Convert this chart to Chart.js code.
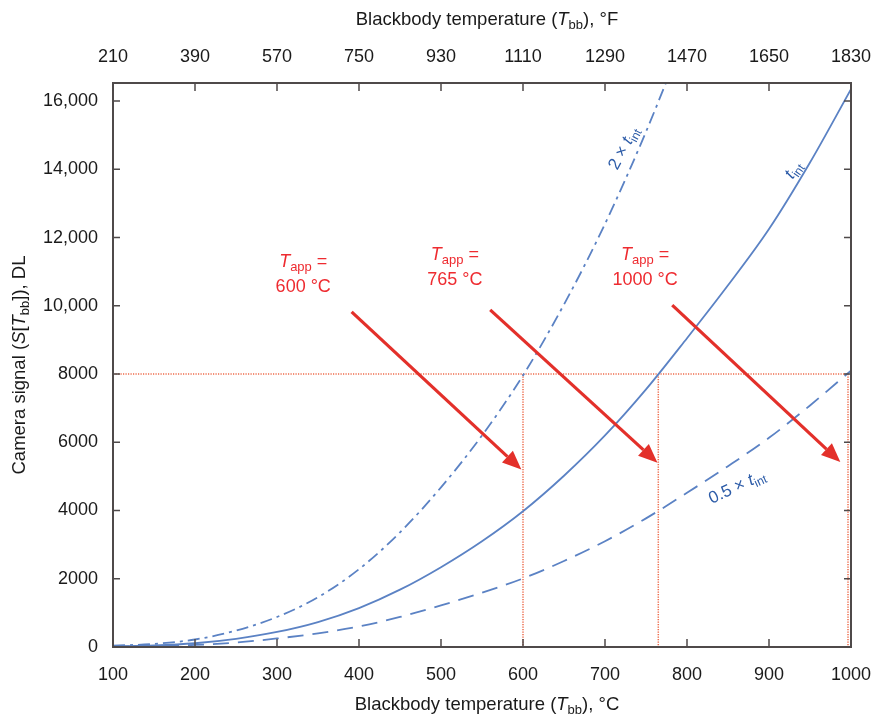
<!DOCTYPE html>
<html>
<head>
<meta charset="utf-8">
<title>Camera signal vs blackbody temperature</title>
<script src="https://cdn.jsdelivr.net/npm/chart.js@4.4.1/dist/chart.umd.min.js"></script>
<style>
  html, body { margin: 0; padding: 0; background: #fff; }
  #wrap { width: 877px; height: 717px; }
</style>
</head>
<body>
<div id="wrap"><canvas id="signalChart" width="877" height="717"></canvas></div>
<script>
// ==== Data ====
const tempsC = [100, 150, 200, 250, 300, 350, 400, 450, 500, 550, 600, 650, 700, 750, 800, 850, 900, 950, 1000];
const tintSignal = [20, 45, 110, 240, 440, 730, 1140, 1680, 2340, 3100, 3980, 5020, 6200, 7550, 9050, 10600, 12250, 14200, 16350];
const doubleSignal = [40, 90, 220, 480, 880, 1460, 2280, 3360, 4680, 6200, 7960, 10040, 12400, 15100, 18100];
const halfSignal = [10, 25, 60, 130, 250, 400, 600, 880, 1220, 1590, 2010, 2520, 3100, 3770, 4520, 5300, 6130, 7080, 8100];

const celsiusTicks = [100, 200, 300, 400, 500, 600, 700, 800, 900, 1000];
const fahrenheitTicks = ['210', '390', '570', '750', '930', '1110', '1290', '1470', '1650', '1830'];
const signalTickValues = [0, 2000, 4000, 6000, 8000, 10000, 12000, 14000, 16000];
const signalTicks = ['0', '2000', '4000', '6000', '8000', '10,000', '12,000', '14,000', '16,000'];

const targetSignal = 8000;
const apparentTemps = [600, 765, 1000];

// ==== Look ====
const FONT = "'Liberation Sans', Arial, Helvetica, sans-serif";
const AXIS_COLOR = '#4f4a4a';
const CURVE_COLOR = '#5b82c4';
const CURVE_TEXT = '#2d5ca8';
const RED = '#e3302a';
const RED_TEXT = '#ee2b30';
const DOTTED = '#ee6c4c';

// arrow tails/tips and label anchors, in data units (°C, DL)
const arrows = [
  { from: [391, 9820], to: [598, 5200] },
  { from: [560, 9880], to: [764, 5400] },
  { from: [782, 10020], to: [987, 5420] }
];
const tappLabels = [
  { x: 332, y: 10900, value: apparentTemps[0] },
  { x: 517, y: 11110, value: apparentTemps[1] },
  { x: 749, y: 11110, value: apparentTemps[2] }
];

const toPoints = (vals) => vals.map((v, i) => ({ x: tempsC[i], y: v }));

// ---- mixed italic / subscript text ----
function fontFor(part, size) {
  const s = part.sub ? Math.round(size * 0.72) : size;
  return (part.italic ? 'italic ' : '') + s + 'px ' + FONT;
}
function richWidth(ctx, parts, size) {
  let w = 0;
  parts.forEach(p => { ctx.font = fontFor(p, size); w += ctx.measureText(p.t).width; });
  return w;
}
function drawRich(ctx, parts, x, y, size, color) {
  ctx.save();
  ctx.fillStyle = color;
  ctx.textBaseline = 'middle';
  ctx.textAlign = 'left';
  let cx = x - richWidth(ctx, parts, size) / 2;
  parts.forEach(p => {
    ctx.font = fontFor(p, size);
    ctx.fillText(p.t, cx, y + (p.sub ? size * 0.3 : 0));
    cx += ctx.measureText(p.t).width;
  });
  ctx.restore();
}
function drawRotated(ctx, parts, x, y, deg, size, color) {
  ctx.save();
  ctx.translate(x, y);
  ctx.rotate(deg * Math.PI / 180);
  drawRich(ctx, parts, 0, 0, size, color);
  ctx.restore();
}

function drawArrow(ctx, x1, y1, x2, y2) {
  const ang = Math.atan2(y2 - y1, x2 - x1);
  const headLen = 19, half = 8;
  const bx = x2 - headLen * Math.cos(ang), by = y2 - headLen * Math.sin(ang);
  ctx.save();
  ctx.strokeStyle = RED;
  ctx.fillStyle = RED;
  ctx.lineWidth = 3.2;
  ctx.beginPath();
  ctx.moveTo(x1, y1);
  ctx.lineTo(bx, by);
  ctx.stroke();
  ctx.beginPath();
  ctx.moveTo(x2, y2);
  ctx.lineTo(bx + half * Math.sin(ang), by - half * Math.cos(ang));
  ctx.lineTo(bx - half * Math.sin(ang), by + half * Math.cos(ang));
  ctx.closePath();
  ctx.fill();
  ctx.restore();
}

// ---- frame, inward ticks, guides, arrows and titles ----
const decorPlugin = {
  id: 'decor',
  beforeDatasetsDraw(chart) {
    const { ctx, chartArea: a, scales: { x, y } } = chart;
    const yPx = y.getPixelForValue(targetSignal);
    ctx.save();
    ctx.strokeStyle = DOTTED;
    ctx.lineWidth = 1.5;
    ctx.setLineDash([1.2, 1.3]);
    ctx.beginPath();
    ctx.moveTo(a.left, yPx);
    ctx.lineTo(a.right - 3, yPx);
    apparentTemps.forEach(t => {
      const px = Math.min(x.getPixelForValue(t), a.right - 3);
      ctx.moveTo(px, yPx);
      ctx.lineTo(px, a.bottom);
    });
    ctx.stroke();
    ctx.restore();
  },
  afterDatasetsDraw(chart) {
    const { ctx, chartArea: a, scales: { x, y, xTop } } = chart;

    // frame
    ctx.save();
    ctx.strokeStyle = AXIS_COLOR;
    ctx.lineWidth = 2;
    ctx.strokeRect(a.left, a.top, a.right - a.left, a.bottom - a.top);
    ctx.lineWidth = 1.5;
    ctx.beginPath();
    x.ticks.forEach(t => {
      const px = x.getPixelForValue(t.value);
      ctx.moveTo(px, a.bottom); ctx.lineTo(px, a.bottom - 8);
    });
    xTop.ticks.forEach(t => {
      const px = xTop.getPixelForValue(t.value);
      ctx.moveTo(px, a.top); ctx.lineTo(px, a.top + 8);
    });
    y.ticks.forEach(t => {
      const py = y.getPixelForValue(t.value);
      ctx.moveTo(a.left, py); ctx.lineTo(a.left + 7, py);
      ctx.moveTo(a.right, py); ctx.lineTo(a.right - 7, py);
    });
    ctx.stroke();
    ctx.restore();

    // arrows and T_app labels
    arrows.forEach(ar => {
      drawArrow(ctx,
        x.getPixelForValue(ar.from[0]), y.getPixelForValue(ar.from[1]),
        x.getPixelForValue(ar.to[0]), y.getPixelForValue(ar.to[1]));
    });
    tappLabels.forEach(lb => {
      const px = x.getPixelForValue(lb.x), py = y.getPixelForValue(lb.y);
      drawRich(ctx, [{ t: 'T', italic: true }, { t: 'app', sub: true }, { t: ' =' }], px, py - 13, 18, RED_TEXT);
      drawRich(ctx, [{ t: lb.value + ' °C' }], px, py + 12, 18, RED_TEXT);
    });

    // curve labels
    const lblAt = (tc, s) => [x.getPixelForValue(tc), y.getPixelForValue(s)];
    let p = lblAt(723, 14620);
    drawRotated(ctx, [{ t: '2 × ' }, { t: 't', italic: true }, { t: 'int', sub: true }], p[0], p[1], -62, 17, CURVE_TEXT);
    p = lblAt(930, 13980);
    drawRotated(ctx, [{ t: 't', italic: true }, { t: 'int', sub: true }], p[0], p[1], -55, 17, CURVE_TEXT);
    p = lblAt(861, 4690);
    drawRotated(ctx, [{ t: '0.5 × ' }, { t: 't', italic: true }, { t: 'int', sub: true }], p[0], p[1], -25, 17, CURVE_TEXT);

    // axis titles
    const midX = (a.left + a.right) / 2;
    drawRich(ctx, [{ t: 'Blackbody temperature (' }, { t: 'T', italic: true }, { t: 'bb', sub: true }, { t: '), °F' }], midX + 5, 20, 18.5, '#1a1a1a');
    drawRich(ctx, [{ t: 'Blackbody temperature (' }, { t: 'T', italic: true }, { t: 'bb', sub: true }, { t: '), °C' }], midX + 5, 705, 18.5, '#1a1a1a');
    drawRotated(ctx, [{ t: 'Camera signal (' }, { t: 'S', italic: true }, { t: '[' }, { t: 'T', italic: true }, { t: 'bb', sub: true }, { t: ']), DL' }],
      20, (a.top + a.bottom) / 2, -90, 18.5, '#1a1a1a');
  }
};

const curve = (vals, dash) => ({
  data: toPoints(vals),
  borderColor: CURVE_COLOR,
  borderWidth: 1.8,
  borderDash: dash,
  pointRadius: 0,
  fill: false,
  cubicInterpolationMode: 'monotone',
  clip: 0
});

const tickFont = { family: FONT, size: 18 };
const noEdgePadding = (s) => { s.paddingLeft = 0; s.paddingRight = 0; };

new Chart(document.getElementById('signalChart'), {
  type: 'line',
  data: {
    datasets: [
      curve(tintSignal, []),
      curve(doubleSignal, [12, 5, 3, 5]),
      curve(halfSignal, [16, 9])
    ]
  },
  options: {
    responsive: false,
    animation: false,
    layout: { padding: { right: 26 } },
    plugins: { legend: { display: false }, tooltip: { enabled: false } },
    scales: {
      x: {
        type: 'linear', position: 'bottom', min: 100, max: 1000,
        grid: { display: false, drawTicks: false },
        border: { display: false },
        afterBuildTicks(s) { s.ticks = celsiusTicks.map(v => ({ value: v })); },
        ticks: { maxRotation: 0, autoSkip: false, padding: 17, color: '#1a1a1a', font: tickFont, callback: (v) => String(v) },
        afterFit(s) { s.height = 70; noEdgePadding(s); }
      },
      xTop: {
        type: 'linear', position: 'top', min: 100, max: 1000,
        grid: { display: false, drawTicks: false },
        border: { display: false },
        afterBuildTicks(s) { s.ticks = celsiusTicks.map(v => ({ value: v })); },
        ticks: {
          maxRotation: 0, autoSkip: false, padding: 15,
          color: '#1a1a1a', font: tickFont,
          callback: (v, i) => fahrenheitTicks[i]
        },
        afterFit(s) { s.height = 83; noEdgePadding(s); }
      },
      y: {
        type: 'linear', min: 0, max: 16530,
        grid: { display: false, drawTicks: false },
        border: { display: false },
        afterBuildTicks(s) { s.ticks = signalTickValues.map(v => ({ value: v })); },
        ticks: {
          autoSkip: false, padding: 15,
          color: '#1a1a1a', font: tickFont,
          callback: (v, i) => signalTicks[i]
        },
        afterFit(s) { s.width = 113; }
      }
    }
  },
  plugins: [decorPlugin]
});
</script>
</body>
</html>
